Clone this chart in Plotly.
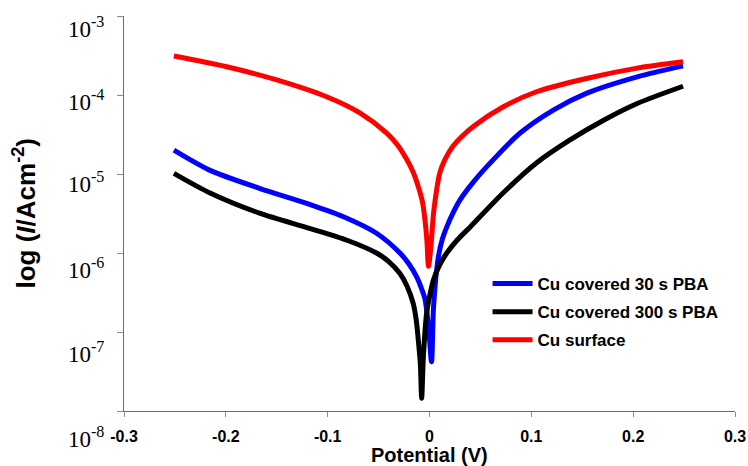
import math
import plotly.graph_objects as go

# Potential (V) and current density (A/cm^2)
red_v = [-0.251, -0.199, -0.150, -0.101, -0.068, -0.042, -0.031, -0.022, -0.016, -0.011, -0.007,
         -0.0044, -0.0025, -0.001,
         0.0015, 0.004, 0.007, 0.010, 0.015, 0.023, 0.032, 0.043, 0.0725, 0.105, 0.154, 0.204, 0.249]
red_i = [3.12e-4, 2.28e-4, 1.55e-4, 9.5e-5, 5.9e-5, 3.3e-5, 2.3e-5, 1.5e-5, 1.05e-5, 6.9e-6, 4.5e-6,
         2.6e-6, 1.41e-6, 6.8e-7,
         1.26e-6, 3.2e-6, 6.3e-6, 1.02e-5, 1.51e-5, 2.24e-5, 3.0e-5, 4.0e-5, 7.1e-5, 1.10e-4,
         1.62e-4, 2.19e-4, 2.63e-4]

blue_v = [-0.251, -0.216, -0.167, -0.117, -0.085, -0.052, -0.029, -0.020, -0.0126, -0.008, -0.0044,
          -0.001, 0.002,
          0.004, 0.0087, 0.0125, 0.017, 0.023, 0.030, 0.042, 0.056, 0.089, 0.122, 0.154, 0.204, 0.249]
blue_i = [2.0e-5, 1.12e-5, 6.6e-6, 4.1e-6, 2.9e-6, 1.78e-6, 1.0e-6, 7.2e-7, 5.0e-7, 3.6e-7, 2.6e-7,
          1.17e-7, 4.2e-8,
          2.1e-7, 8.9e-7, 1.48e-6, 2.14e-6, 3.2e-6, 4.7e-6, 7.6e-6, 1.23e-5, 3.3e-5, 6.5e-5,
          1.05e-4, 1.70e-4, 2.34e-4]

black_v = [-0.251, -0.216, -0.167, -0.117, -0.081, -0.052, -0.040, -0.029, -0.022, -0.016, -0.013,
           -0.011, -0.009, -0.0077,
           -0.006, -0.0028, 0.0005, 0.004, 0.010, 0.017, 0.027, 0.040, 0.0725, 0.105, 0.138, 0.171,
           0.204, 0.249]
black_i = [1.02e-5, 5.8e-6, 3.2e-6, 2.04e-6, 1.45e-6, 1.0e-6, 7.8e-7, 5.5e-7, 3.8e-7, 2.3e-7, 1.41e-7,
           7.9e-8, 4.0e-8, 1.45e-8,
           4.9e-8, 1.74e-7, 3.0e-7, 4.6e-7, 7.1e-7, 1.0e-6, 1.45e-6, 2.14e-6, 5.8e-6, 1.38e-5,
           2.7e-5, 4.8e-5, 7.8e-5, 1.29e-4]

series_names = ["Cu covered 30 s PBA", "Cu covered 300 s PBA", "Cu surface"]
x_ticks = [-0.3, -0.2, -0.1, 0, 0.1, 0.2, 0.3]
x_ticktext = ["-0.3", "-0.2", "-0.1", "0", "0.1", "0.2", "0.3"]
y_ticks = [1e-3, 1e-4, 1e-5, 1e-6, 1e-7, 1e-8]
y_ticktext = ["10<sup>-3</sup>", "10<sup>-4</sup>", "10<sup>-5</sup>",
              "10<sup>-6</sup>", "10<sup>-7</sup>", "10<sup>-8</sup>"]
y_label_shift = [-11, -5, -8, -15, -20, -26]

fig = go.Figure()
for name, xs, ys, col, grp in [
    (series_names[0], blue_v, blue_i, "#0000FF", "a"),
    (series_names[1], black_v, black_i, "#000000", "b"),
    (series_names[2], red_v, red_i, "#FF0000", "c"),
]:
    fig.add_trace(go.Scatter(x=xs, y=ys, mode="lines", name="<b>%s</b>" % name, legendgroup=grp,
                             line=dict(color=col, width=5, shape="spline", smoothing=0.8)))

annotations = []
for v, t, s in zip(y_ticks, y_ticktext, y_label_shift):
    annotations.append(dict(x=0, xref="paper", y=math.log10(v), yref="y", text=t, showarrow=False,
                            xanchor="right", yanchor="middle", xshift=-18, yshift=s,
                            font=dict(family="Liberation Serif", size=23, color="#000000")))
annotations.append(dict(x=0, xref="paper", y=0.5, yref="paper",
                        text="<b>log (<i>I</i>/Acm<sup>-2</sup>)</b>", textangle=-90,
                        showarrow=False, xanchor="center", yanchor="middle", xshift=-99,
                        font=dict(family="Liberation Sans", size=26, color="#000000")))
annotations.append(dict(x=0.5, xref="paper", y=0, yref="paper",
                        text="<b>Potential (V)</b>", showarrow=False,
                        xanchor="center", yanchor="middle", yshift=-44,
                        font=dict(family="Liberation Sans", size=20, color="#000000")))

fig.update_layout(
    width=748, height=466,
    margin=dict(l=124, r=13, t=16, b=55, autoexpand=False),
    paper_bgcolor="white", plot_bgcolor="white",
    showlegend=True,
    legend=dict(x=0.595, y=0.367, xanchor="left", yanchor="top", bgcolor="rgba(0,0,0,0)",
                font=dict(family="Liberation Sans", size=17, color="#000000"),
                tracegroupgap=3, itemwidth=40),
    annotations=annotations,
    xaxis=dict(range=[-0.3, 0.3], tickvals=x_ticks, ticktext=["<b>%s</b>" % t for t in x_ticktext],
               automargin=False, ticklabelstandoff=6,
               showgrid=False, zeroline=False, showline=True, linecolor="#6b6b6b", linewidth=1,
               ticks="outside", ticklen=5, tickcolor="#8c8c8c",
               tickfont=dict(family="Liberation Sans", size=16, color="#000000")),
    yaxis=dict(type="log", range=[-8, -3], tickvals=y_ticks, showticklabels=False,
               automargin=False,
               showgrid=False, zeroline=False, showline=True, linecolor="#6b6b6b", linewidth=1,
               ticks="outside", ticklen=6, tickcolor="#8c8c8c"),
)

fig.write_html("out.html", config={"displayModeBar": False},
               post_script="document.body.style.margin='0';")
